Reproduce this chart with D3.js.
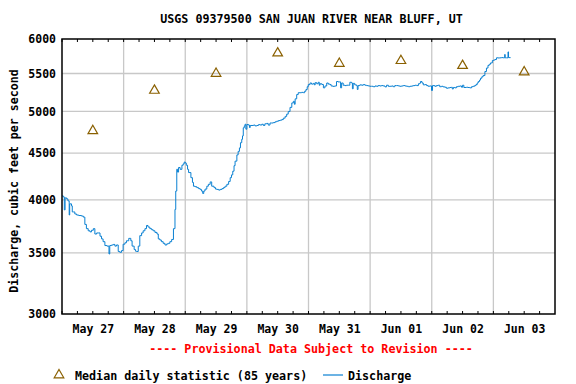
<!DOCTYPE html>
<html lang="en">
<head>
<meta charset="utf-8">
<title>USGS 09379500</title>
<script src="https://d3js.org/d3.v7.min.js"></script>
<style>
  body { margin: 0; background: #fff; }
  text { font-family: "DejaVu Sans Mono", monospace; font-weight: bold; }
</style>
</head>
<body>
<script>
// chart text
var title = "USGS 09379500 SAN JUAN RIVER NEAR BLUFF, UT";
var yLabel = "Discharge, cubic feet per second";
var provisional = "---- Provisional Data Subject to Revision ----";

// y ticks (log scale)
var yTicks = [3000, 3500, 4000, 4500, 5000, 5500, 6000];

// median daily statistic, one per day (at noon)
var medianDays = ["2023-05-27", "2023-05-28", "2023-05-29", "2023-05-30", "2023-05-31", "2023-06-01", "2023-06-02", "2023-06-03"];
var medianCfs = [4760, 5270, 5500, 5790, 5640, 5680, 5610, 5520];

// discharge: hours after May 27 00:00, cfs
var dischargeHours = [0.0,0.5,0.9,1.2,1.8,2.3,2.8,3.0,3.7,4.0,4.4,5.0,5.7,6.5,7.6,8.3,8.9,9.5,10.2,10.9,11.5,12.2,12.8,13.5,14.1,14.8,15.4,16.0,16.7,17.5,18.3,18.6,19.3,20.0,20.6,21.2,21.9,22.5,23.2,23.8,24.5,25.1,26.0,26.8,27.3,28.1,28.6,29.0,29.7,30.3,31.0,31.6,32.3,32.9,33.5,34.2,34.9,35.5,36.2,37.0,37.5,38.1,38.7,39.4,40.1,40.8,41.4,42.0,42.7,43.4,44.0,44.3,44.7,45.0,45.4,46.0,46.7,47.2,47.6,48.0,48.4,48.9,49.3,50.2,50.8,51.2,51.8,52.5,53.2,53.8,54.3,54.8,55.2,55.7,56.4,57.0,57.7,58.3,59.2,59.8,60.3,61.0,61.6,62.3,62.9,63.5,64.2,64.9,65.5,66.0,66.5,67.0,67.4,68.1,68.6,69.1,69.5,70.0,70.3,70.6,71.0,71.3,71.6,72.0,72.6,73.0,73.3,74.0,74.6,75.2,75.9,76.5,77.2,77.8,78.4,79.0,79.7,80.3,81.0,81.7,82.3,83.0,83.6,84.3,85.0,85.6,86.2,86.9,87.5,88.1,88.8,89.5,90.1,90.5,90.8,91.4,92.0,92.7,93.3,94.0,94.5,95.0,95.5,95.9,96.6,97.2,97.9,98.3,98.6,99.2,99.8,100.2,100.5,101.2,101.8,102.4,103.1,103.7,104.4,104.8,105.5,106.2,106.9,107.5,108.2,108.5,108.9,109.5,110.2,110.8,111.5,112.1,112.8,113.1,113.4,114.0,114.7,115.0,115.3,116.0,116.7,117.3,118.0,118.6,119.3,119.9,120.5,121.2,121.9,122.5,123.1,123.8,124.4,125.1,125.8,126.4,127.1,127.7,128.4,129.0,129.6,130.3,131.0,131.6,132.2,132.9,133.6,134.2,134.9,135.5,136.2,136.8,137.5,138.1,138.8,139.4,139.6,140.2,140.7,141.3,142.0,142.6,143.2,143.9,144.3,145.2,145.8,146.5,147.1,147.8,148.4,149.1,149.7,150.4,151.1,151.7,152.0,152.4,153.0,153.6,154.3,155.0,155.6,156.0,156.5,157.5,158.1,158.8,159.5,160.1,160.7,161.2,161.7,162.1,162.6,163.0,163.5,164.0,164.7,165.3,165.9,166.4,166.9,167.6,168.1,168.6,169.2,169.8,170.5,171.1,171.8,172.4,172.6,173.1,173.7,173.9,174.7];
var dischargeCfs = [4040,4030,3900,4020,4010,3990,3850,3960,3940,3880,3880,3860,3850,3845,3840,3830,3760,3720,3700,3690,3705,3720,3670,3680,3680,3650,3625,3600,3565,3560,3490,3565,3570,3575,3560,3570,3512,3505,3520,3577,3590,3608,3630,3608,3560,3530,3515,3512,3560,3655,3680,3700,3720,3750,3735,3720,3710,3700,3685,3670,3625,3615,3600,3585,3570,3580,3585,3600,3620,3720,3905,4090,4321,4290,4340,4320,4365,4380,4400,4390,4365,4320,4285,4230,4180,4140,4135,4125,4115,4107,4090,4065,4090,4110,4140,4160,4185,4140,4125,4110,4107,4100,4107,4115,4125,4140,4160,4190,4230,4260,4300,4360,4410,4480,4520,4560,4620,4660,4700,4797,4820,4840,4780,4837,4830,4800,4825,4825,4830,4820,4825,4835,4830,4840,4825,4845,4850,4830,4855,4855,4860,4870,4877,4885,4890,4897,4915,4937,4965,4997,5050,5107,5128,5090,5160,5216,5240,5240,5245,5240,5260,5282,5320,5348,5370,5355,5365,5345,5375,5360,5380,5340,5360,5350,5305,5330,5370,5355,5350,5330,5325,5330,5390,5385,5385,5305,5370,5340,5335,5340,5340,5380,5370,5292,5365,5345,5335,5283,5335,5345,5340,5348,5340,5335,5330,5326,5326,5320,5330,5326,5335,5330,5335,5330,5318,5340,5325,5326,5330,5320,5335,5335,5330,5326,5330,5335,5330,5326,5320,5326,5330,5335,5340,5335,5360,5370,5390,5370,5345,5348,5335,5326,5330,5270,5335,5326,5335,5340,5320,5326,5318,5313,5300,5305,5310,5313,5290,5310,5305,5320,5326,5330,5313,5340,5310,5313,5310,5305,5320,5326,5335,5348,5370,5390,5410,5435,5455,5472,5528,5576,5614,5630,5649,5683,5690,5697,5722,5720,5722,5725,5722,5770,5722,5722,5808,5725,5725];

var w = 576, h = 384;
var plotLeft = 62, plotRight = 555, plotTop = 39, plotBottom = 314;

var start = new Date(2023, 4, 27);
var end = new Date(2023, 5, 4);
var hourMs = 3600 * 1000;

var xScale = d3.scaleTime().domain([start, end]).range([plotLeft, plotRight]);
var yScale = d3.scaleLog().domain([3000, 6000]).range([plotBottom, plotTop]);

var svg = d3.select("body").append("svg")
  .attr("width", w).attr("height", h)
  .style("background", "#fff");

// grid
var days = d3.timeDay.range(d3.timeDay.offset(start, 1), end);
svg.append("g").selectAll("line").data(days).enter().append("line")
  .attr("x1", d => xScale(d)).attr("x2", d => xScale(d))
  .attr("y1", plotTop).attr("y2", plotBottom)
  .attr("stroke", "#c8c8c8").attr("stroke-width", 1.3);
svg.append("g").selectAll("line").data(yTicks.slice(1, -1)).enter().append("line")
  .attr("x1", plotLeft).attr("x2", plotRight)
  .attr("y1", d => yScale(d)).attr("y2", d => yScale(d))
  .attr("stroke", "#c8c8c8").attr("stroke-width", 1.3);

// 6-hour minor ticks top and bottom
var sixHours = d3.timeHour.every(6).range(start, end);
var tg = svg.append("g");
tg.selectAll(".tb").data(sixHours).enter().append("line")
  .attr("x1", d => xScale(d)).attr("x2", d => xScale(d))
  .attr("y1", plotBottom).attr("y2", plotBottom - 3)
  .attr("stroke", "#000");
tg.selectAll(".tt").data(sixHours).enter().append("line")
  .attr("x1", d => xScale(d)).attr("x2", d => xScale(d))
  .attr("y1", plotTop).attr("y2", plotTop + 3)
  .attr("stroke", "#000");

// discharge line
var discharge = dischargeHours.map((hr, i) => ({ t: new Date(start.getTime() + hr * hourMs), v: dischargeCfs[i] }));
svg.append("path")
  .datum(discharge)
  .attr("fill", "none")
  .attr("stroke", "#0a80d2")
  .attr("stroke-width", 1)
  .attr("d", d3.line().x(d => xScale(d.t)).y(d => yScale(d.v)).curve(d3.curveStepAfter));

// median triangles
var tri = d3.symbol().type(d3.symbolTriangle).size(40);
var parseDay = d3.timeParse("%Y-%m-%d");
svg.append("g").selectAll("path").data(medianDays).enter().append("path")
  .attr("d", tri)
  .attr("transform", (d, i) => "translate(" + xScale(d3.timeHour.offset(parseDay(d), 12)) + "," + yScale(medianCfs[i]) + ")")
  .attr("fill", "none")
  .attr("stroke", "#8a6000")
  .attr("stroke-width", 1.2);

// frame
svg.append("rect")
  .attr("x", plotLeft).attr("y", plotTop)
  .attr("width", plotRight - plotLeft).attr("height", plotBottom - plotTop)
  .attr("fill", "none").attr("stroke", "#000").attr("stroke-width", 1.5);

// y axis labels
var yAxis = d3.axisLeft(yScale).tickValues(yTicks).tickFormat(d3.format("d")).tickSize(0).tickPadding(6);
svg.append("g").attr("transform", "translate(" + plotLeft + ",0)").call(yAxis)
  .call(g => g.select(".domain").remove())
  .selectAll("text").style("font-size", "11.5px").attr("fill", "#000");

// x axis labels at noon
var noons = days.map(d => d3.timeHour.offset(d, -12)).concat([d3.timeHour.offset(end, -12)]);
var xAxis = d3.axisBottom(xScale).tickValues(noons).tickFormat(d3.timeFormat("%b %d")).tickSize(0).tickPadding(11);
svg.append("g").attr("transform", "translate(0," + plotBottom + ")").call(xAxis)
  .call(g => g.select(".domain").remove())
  .selectAll("text").style("font-size", "11.5px").attr("fill", "#000");

// title
svg.append("text")
  .attr("x", (plotLeft + plotRight) / 2 + 3).attr("y", 23)
  .attr("text-anchor", "middle")
  .style("font-size", "11.7px")
  .text(title);

// y label
svg.append("text")
  .attr("transform", "translate(18,181) rotate(-90)")
  .attr("text-anchor", "middle")
  .style("font-size", "11.6px")
  .text(yLabel);

// provisional
svg.append("text")
  .attr("x", 311).attr("y", 353)
  .attr("text-anchor", "middle")
  .attr("fill", "#ff0000")
  .style("font-size", "11.7px")
  .text(provisional);

// legend
svg.append("path")
  .attr("d", tri)
  .attr("transform", "translate(59,375)")
  .attr("fill", "none").attr("stroke", "#8a6000").attr("stroke-width", 1.2);
svg.append("text").attr("x", 75).attr("y", 380).style("font-size", "11.7px")
  .text("Median daily statistic (85 years)");
svg.append("line").attr("x1", 323).attr("x2", 343).attr("y1", 375).attr("y2", 375)
  .attr("stroke", "#0a80d2").attr("stroke-width", 1.2);
svg.append("text").attr("x", 348).attr("y", 380).style("font-size", "11.7px")
  .text("Discharge");
</script>
</body>
</html>
